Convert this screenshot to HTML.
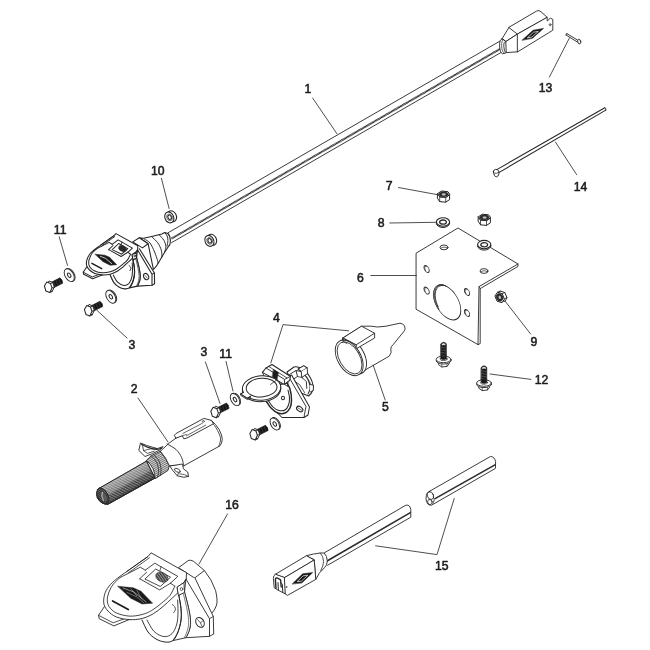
<!DOCTYPE html>
<html><head><meta charset="utf-8"><title>Parts diagram</title>
<style>
html,body{margin:0;padding:0;background:#fff;}
body{width:650px;height:650px;overflow:hidden;}
svg{display:block;will-change:transform;}
text{font-family:"Liberation Sans",sans-serif;font-weight:normal;fill:#1c1c1c;stroke:#1c1c1c;stroke-width:0.55px;stroke-linejoin:round;}
</style></head><body>
<svg width="650" height="650" viewBox="0 0 650 650" stroke-linecap="round" stroke-linejoin="round">
<defs>
<pattern id="hatch" width="1.6" height="1.6" patternUnits="userSpaceOnUse" patternTransform="rotate(60)"><rect width="1.6" height="1.6" fill="#bbb"/><rect width="0.9" height="1.6" fill="#333"/></pattern>
<pattern id="spr" width="2.2" height="2.2" patternUnits="userSpaceOnUse" patternTransform="rotate(-62)"><rect width="2.2" height="2.2" fill="#999"/><rect width="1.2" height="2.2" fill="#3a3a3a"/></pattern>
<pattern id="hatch2" width="2.4" height="2.4" patternUnits="userSpaceOnUse" patternTransform="rotate(-62)"><rect width="2.4" height="2.4" fill="#8c8c8c"/><rect width="1.25" height="2.4" fill="#333"/></pattern>
<pattern id="hatch3" width="1.6" height="1.6" patternUnits="userSpaceOnUse" patternTransform="rotate(-20)"><rect width="1.6" height="1.6" fill="#777"/><rect width="0.9" height="1.6" fill="#2a2a2a"/></pattern>
<pattern id="hatch4" width="1.7" height="1.7" patternUnits="userSpaceOnUse" patternTransform="rotate(-62)"><rect width="1.7" height="1.7" fill="#ddd"/><rect width="0.7" height="1.7" fill="#555"/></pattern>
<linearGradient id="sprg" gradientUnits="userSpaceOnUse" x1="120" y1="476.4" x2="129.2" y2="492.4"><stop offset="0" stop-color="#fff" stop-opacity="0.5"/><stop offset="0.5" stop-color="#fff" stop-opacity="0.3"/><stop offset="0.7" stop-color="#888" stop-opacity="0"/><stop offset="1" stop-color="#000" stop-opacity="0.45"/></linearGradient>
</defs>
<rect width="650" height="650" fill="#fff"/>
<line x1="168.0" y1="232.8" x2="500.5" y2="40.8" stroke="#262626" stroke-width="0.9" />
<line x1="171.5" y1="238.6" x2="501.5" y2="48.1" stroke="#2a2a2a" stroke-width="2.0" stroke-dasharray="1.0 0.3" stroke-linecap="butt"/>
<line x1="171.5" y1="242.7" x2="502.0" y2="51.9" stroke="#262626" stroke-width="0.9" />
<path d="M509.1,27.2 L501.9,39.0 L505.6,41.6 L517.7,33.9" fill="#fff" stroke="#262626" stroke-width="0.90" />
<path d="M517.7,33.9 L505.8,41.6 L506.2,52.6 L517.7,51.8" fill="#fff" stroke="#262626" stroke-width="0.90" />
<path d="M509.1,27.2 L536.5,11.1 Q539,9.6 541,11.799999999999999 L547.2,17.3 L517.7,33.9 Z" fill="#fff" stroke="#262626" stroke-width="0.90" />
<path d="M517.7,33.9 L547.2,17.3 L547.2,21.0 L550.3,18.1 L552.8,19.4 L552.8,30.2 L548.5,32.9 L517.7,51.8 Z" fill="#fff" stroke="#262626" stroke-width="0.90" />
<path d="M501.9,38.8 Q499.4,39.4 499.6,46 Q500.0,53.2 502.6,53.8 L506.2,52.8 Q504,52 503.8,46.5 Q503.6,41 505.7,41.6 Z" fill="#fff" stroke="#262626" stroke-width="0.90" />
<path d="M501.9,38.8 Q504.2,39.0 505.7,41.6" fill="none" stroke="#262626" stroke-width="0.90" />
<path d="M503.6,39.4 Q501.4,40 501.6,46.2 Q502,52.4 504.4,53.2" fill="none" stroke="#262626" stroke-width="0.70" />
<ellipse cx="0" cy="0" rx="0.90" ry="1.10" transform="translate(550.1,24.7) rotate(0)" fill="none" stroke="#262626" stroke-width="0.70"/>
<path d="M522.2,40.1 L533.1,30.2 L543.5,28.4 L532.5,38.2 Z" fill="#151515" stroke="#262626" stroke-width="0.60" />
<path d="M527.6,37.6 L533.6,32.2 L538.3,31.4 L532.2,36.8 Z" fill="none" stroke="#fff" stroke-width="0.70" />
<line x1="566.8" y1="33.6" x2="577.8" y2="40.2" stroke="#262626" stroke-width="0.9" />
<line x1="566.0" y1="35.0" x2="577.0" y2="41.8" stroke="#262626" stroke-width="0.9" />
<line x1="566.8" y1="33.6" x2="566.0" y2="35.0" stroke="#262626" stroke-width="0.9" />
<ellipse cx="0" cy="0" rx="1.50" ry="2.40" transform="translate(579.2,41.6) rotate(-15)" fill="#fff" stroke="#262626" stroke-width="0.90"/>
<line x1="497.2" y1="169.4" x2="604.8" y2="107.7" stroke="#262626" stroke-width="1.05" />
<line x1="498.8" y1="172.6" x2="605.8" y2="110.1" stroke="#262626" stroke-width="1.05" />
<path d="M604.8,107.7 Q606.6,108.2 605.8,110.1" fill="none" stroke="#262626" stroke-width="0.90" />
<path d="M493.4,171.6 Q493.6,169.6 495.6,169.4 L497.4,169.6 Q499.2,171 499,173.4 Q498.8,176.4 496.4,176.8 Q493.8,176.6 493.4,171.6 Z" fill="#fff" stroke="#262626" stroke-width="1.00" />
<path d="M494.6,173.2 Q496.6,174 498.6,172.4" fill="none" stroke="#262626" stroke-width="0.80" />
<ellipse rx="4.33" ry="5.70" transform="translate(172.0,216.3) rotate(-24)" fill="#fff" stroke="#262626" stroke-width="1.1"/>
<ellipse rx="4.33" ry="5.70" transform="translate(169.3,217.4) rotate(-24)" fill="#fff" stroke="#262626" stroke-width="1.1"/>
<ellipse rx="2.69" ry="3.53" transform="translate(169.5,217.4) rotate(-24)" fill="none" stroke="#262626" stroke-width="0.6"/>
<ellipse rx="1.60" ry="2.30" transform="translate(169.6,217.3) rotate(-24)" fill="#fff" stroke="#262626" stroke-width="1.0"/>
<ellipse rx="4.33" ry="5.70" transform="translate(212.1,239.8) rotate(-24)" fill="#fff" stroke="#262626" stroke-width="1.1"/>
<ellipse rx="4.33" ry="5.70" transform="translate(209.4,240.9) rotate(-24)" fill="#fff" stroke="#262626" stroke-width="1.1"/>
<ellipse rx="2.69" ry="3.53" transform="translate(209.6,240.9) rotate(-24)" fill="none" stroke="#262626" stroke-width="0.6"/>
<ellipse rx="1.60" ry="2.30" transform="translate(209.7,240.8) rotate(-24)" fill="#fff" stroke="#262626" stroke-width="1.0"/>
<path d="M52.4,288.4 L62.7,283.2 Q62.8,279.8 60.0,277.8 L49.7,283.1 Z" fill="#151515" stroke="#151515" stroke-width="0.60" />
<line x1="55.2" y1="286.3" x2="53.7" y2="281.8" stroke="#5a5a5a" stroke-width="0.45" />
<line x1="57.8" y1="285.0" x2="56.2" y2="280.5" stroke="#5a5a5a" stroke-width="0.45" />
<line x1="60.4" y1="283.7" x2="58.8" y2="279.2" stroke="#5a5a5a" stroke-width="0.45" />
<path d="M46.7,285.0 L49.1,281.0 L52.8,282.6 L54.3,286.9 L52.2,291.5 L48.2,290.0 Z" fill="#fff" stroke="#262626" stroke-width="1.00" />
<path d="M50.5,283.6 L52.8,282.6" fill="none" stroke="#262626" stroke-width="0.90" />
<path d="M52.0,287.9 L54.3,286.9" fill="none" stroke="#262626" stroke-width="0.90" />
<path d="M49.9,292.5 L52.2,291.5" fill="none" stroke="#262626" stroke-width="0.90" />
<path d="M44.4,286.0 L46.8,282.0 L50.5,283.6 L52.0,287.9 L49.9,292.5 L45.9,291.0 Z" fill="#fff" stroke="#262626" stroke-width="1.05" />
<ellipse cx="0" cy="0" rx="4.20" ry="7.00" transform="translate(70.1,274.8) rotate(-30)" fill="#fff" stroke="#262626" stroke-width="0.90"/>
<ellipse cx="0" cy="0" rx="4.20" ry="7.00" transform="translate(69.2,275.2) rotate(-30)" fill="#fff" stroke="#262626" stroke-width="0.90"/>
<ellipse cx="0" cy="0" rx="1.44" ry="2.40" transform="translate(69.2,275.2) rotate(-30)" fill="none" stroke="#262626" stroke-width="1.00"/>
<path d="M92.4,311.8 L102.7,306.6 Q102.8,303.2 100.0,301.2 L89.7,306.5 Z" fill="#151515" stroke="#151515" stroke-width="0.60" />
<line x1="95.2" y1="309.7" x2="93.7" y2="305.2" stroke="#5a5a5a" stroke-width="0.45" />
<line x1="97.8" y1="308.4" x2="96.2" y2="303.9" stroke="#5a5a5a" stroke-width="0.45" />
<line x1="100.4" y1="307.1" x2="98.8" y2="302.6" stroke="#5a5a5a" stroke-width="0.45" />
<path d="M86.7,308.4 L89.1,304.4 L92.8,306.0 L94.3,310.3 L92.2,314.9 L88.2,313.4 Z" fill="#fff" stroke="#262626" stroke-width="1.00" />
<path d="M90.5,307.0 L92.8,306.0" fill="none" stroke="#262626" stroke-width="0.90" />
<path d="M92.0,311.3 L94.3,310.3" fill="none" stroke="#262626" stroke-width="0.90" />
<path d="M89.9,315.9 L92.2,314.9" fill="none" stroke="#262626" stroke-width="0.90" />
<path d="M84.4,309.4 L86.8,305.4 L90.5,307.0 L92.0,311.3 L89.9,315.9 L85.9,314.4 Z" fill="#fff" stroke="#262626" stroke-width="1.05" />
<ellipse cx="0" cy="0" rx="4.20" ry="7.00" transform="translate(111.7,296.4) rotate(-30)" fill="#fff" stroke="#262626" stroke-width="0.90"/>
<ellipse cx="0" cy="0" rx="4.20" ry="7.00" transform="translate(110.8,296.8) rotate(-30)" fill="#fff" stroke="#262626" stroke-width="0.90"/>
<ellipse cx="0" cy="0" rx="1.44" ry="2.40" transform="translate(110.8,296.8) rotate(-30)" fill="none" stroke="#262626" stroke-width="1.00"/>
<path d="M218.8,413.6 L229.1,408.4 Q229.2,405.0 226.4,403.0 L216.1,408.3 Z" fill="#151515" stroke="#151515" stroke-width="0.60" />
<line x1="221.6" y1="411.5" x2="220.1" y2="407.0" stroke="#5a5a5a" stroke-width="0.45" />
<line x1="224.2" y1="410.2" x2="222.6" y2="405.7" stroke="#5a5a5a" stroke-width="0.45" />
<line x1="226.8" y1="408.9" x2="225.2" y2="404.4" stroke="#5a5a5a" stroke-width="0.45" />
<path d="M213.1,410.2 L215.5,406.2 L219.2,407.8 L220.7,412.1 L218.6,416.7 L214.6,415.2 Z" fill="#fff" stroke="#262626" stroke-width="1.00" />
<path d="M216.9,408.8 L219.2,407.8" fill="none" stroke="#262626" stroke-width="0.90" />
<path d="M218.4,413.1 L220.7,412.1" fill="none" stroke="#262626" stroke-width="0.90" />
<path d="M216.3,417.7 L218.6,416.7" fill="none" stroke="#262626" stroke-width="0.90" />
<path d="M210.8,411.2 L213.2,407.2 L216.9,408.8 L218.4,413.1 L216.3,417.7 L212.3,416.2 Z" fill="#fff" stroke="#262626" stroke-width="1.05" />
<ellipse cx="0" cy="0" rx="3.96" ry="6.60" transform="translate(235.9,399.2) rotate(-30)" fill="#fff" stroke="#262626" stroke-width="0.90"/>
<ellipse cx="0" cy="0" rx="3.96" ry="6.60" transform="translate(235.0,399.6) rotate(-30)" fill="#fff" stroke="#262626" stroke-width="0.90"/>
<ellipse cx="0" cy="0" rx="1.44" ry="2.40" transform="translate(235.0,399.6) rotate(-30)" fill="none" stroke="#262626" stroke-width="1.00"/>
<path d="M257.8,435.8 L268.1,430.6 Q268.2,427.2 265.4,425.2 L255.1,430.5 Z" fill="#151515" stroke="#151515" stroke-width="0.60" />
<line x1="260.6" y1="433.7" x2="259.1" y2="429.2" stroke="#5a5a5a" stroke-width="0.45" />
<line x1="263.2" y1="432.4" x2="261.6" y2="427.9" stroke="#5a5a5a" stroke-width="0.45" />
<line x1="265.8" y1="431.1" x2="264.2" y2="426.6" stroke="#5a5a5a" stroke-width="0.45" />
<path d="M252.1,432.4 L254.5,428.4 L258.2,430.0 L259.7,434.3 L257.6,438.9 L253.6,437.4 Z" fill="#fff" stroke="#262626" stroke-width="1.00" />
<path d="M255.9,431.0 L258.2,430.0" fill="none" stroke="#262626" stroke-width="0.90" />
<path d="M257.4,435.3 L259.7,434.3" fill="none" stroke="#262626" stroke-width="0.90" />
<path d="M255.3,439.9 L257.6,438.9" fill="none" stroke="#262626" stroke-width="0.90" />
<path d="M249.8,433.4 L252.2,429.4 L255.9,431.0 L257.4,435.3 L255.3,439.9 L251.3,438.4 Z" fill="#fff" stroke="#262626" stroke-width="1.05" />
<ellipse cx="0" cy="0" rx="3.96" ry="6.60" transform="translate(275.7,423.6) rotate(-30)" fill="#fff" stroke="#262626" stroke-width="0.90"/>
<ellipse cx="0" cy="0" rx="3.96" ry="6.60" transform="translate(274.8,424.0) rotate(-30)" fill="#fff" stroke="#262626" stroke-width="0.90"/>
<ellipse cx="0" cy="0" rx="1.44" ry="2.40" transform="translate(274.8,424.0) rotate(-30)" fill="none" stroke="#262626" stroke-width="1.00"/>
<path d="M416.4,253.0 L458.0,228.0 L518.0,264.0 L518.0,266.4 L480.2,288.6 L480.2,343.6 L478.0,344.6 L416.4,309.4 Z" fill="#fff" stroke="#262626" stroke-width="0.90" />
<path d="M518.0,264.0 L479.0,286.6 L478.0,344.6" fill="none" stroke="#262626" stroke-width="0.90" />
<path d="M479.0,286.6 L480.2,288.6" fill="none" stroke="#262626" stroke-width="0.70" />
<g transform="matrix(0.866,0.5,0,1,447.2,302.4)"><circle r="15.7" fill="#fff" stroke="#262626" stroke-width="0.95"/><path d="M-10.6,11.6 A15.7,15.7 0 0 1 -4,-15.2 A14.6,15.5 0 0 0 -9.6,11.4 Z" fill="#fff" stroke="#262626" stroke-width="0.7"/></g>
<g transform="matrix(0.866,0.5,0,1,448.4,302.6)"><path d="M-11.8,10.0 A15.5,15.5 0 0 1 -3,-15.2" fill="none" stroke="#262626" stroke-width="0.8"/></g>
<g transform="matrix(0.866,0.5,0,1,426.6,269)"><circle r="3.1" fill="#fff" stroke="#262626" stroke-width="0.9"/><path d="M-2.2,2.2 A3.1,3.1 0 0 1 -0.6,-3.05" transform="translate(0.9,0)" fill="none" stroke="#262626" stroke-width="0.7"/></g>
<g transform="matrix(0.866,0.5,0,1,426.6,290.6)"><circle r="3.1" fill="#fff" stroke="#262626" stroke-width="0.9"/><path d="M-2.2,2.2 A3.1,3.1 0 0 1 -0.6,-3.05" transform="translate(0.9,0)" fill="none" stroke="#262626" stroke-width="0.7"/></g>
<g transform="matrix(0.866,0.5,0,1,467,292)"><circle r="3.1" fill="#fff" stroke="#262626" stroke-width="0.9"/><path d="M-2.2,2.2 A3.1,3.1 0 0 1 -0.6,-3.05" transform="translate(0.9,0)" fill="none" stroke="#262626" stroke-width="0.7"/></g>
<g transform="matrix(0.866,0.5,0,1,467,313)"><circle r="3.1" fill="#fff" stroke="#262626" stroke-width="0.9"/><path d="M-2.2,2.2 A3.1,3.1 0 0 1 -0.6,-3.05" transform="translate(0.9,0)" fill="none" stroke="#262626" stroke-width="0.7"/></g>
<ellipse cx="0" cy="0" rx="4.00" ry="2.40" transform="translate(444.0,247.4) rotate(0)" fill="#fff" stroke="#262626" stroke-width="0.90"/>
<path d="M440.4,248.4 Q444,245.6 447.6,248.4" fill="none" stroke="#262626" stroke-width="0.70" />
<ellipse cx="0" cy="0" rx="4.00" ry="2.40" transform="translate(484.0,271.0) rotate(0)" fill="#fff" stroke="#262626" stroke-width="0.90"/>
<path d="M480.4,272.0 Q484,269.2 487.6,272.0" fill="none" stroke="#262626" stroke-width="0.70" />
<ellipse cx="0" cy="0" rx="6.60" ry="4.20" transform="translate(443.0,223.3) rotate(0)" fill="#fff" stroke="#262626" stroke-width="1.00"/>
<ellipse cx="0" cy="0" rx="6.60" ry="4.20" transform="translate(443.0,222.0) rotate(0)" fill="#fff" stroke="#262626" stroke-width="1.10"/>
<ellipse cx="0" cy="0" rx="3.43" ry="2.10" transform="translate(443.0,222.1) rotate(0)" fill="none" stroke="#262626" stroke-width="1.30"/>
<ellipse cx="0" cy="0" rx="6.60" ry="4.20" transform="translate(484.2,245.9) rotate(0)" fill="#fff" stroke="#262626" stroke-width="1.00"/>
<ellipse cx="0" cy="0" rx="6.60" ry="4.20" transform="translate(484.2,244.6) rotate(0)" fill="#fff" stroke="#262626" stroke-width="1.10"/>
<ellipse cx="0" cy="0" rx="3.43" ry="2.10" transform="translate(484.2,244.7) rotate(0)" fill="none" stroke="#262626" stroke-width="1.30"/>
<path d="M437.6,193.6 L439.7,196.8 L445.7,197.4 L449.6,194.8 L449.6,199.6 L445.7,202.2 L439.7,201.6 L437.6,198.4 Z" fill="#fff" stroke="#262626" stroke-width="1.00" />
<path d="M439.7,196.8 L439.7,201.6" fill="none" stroke="#262626" stroke-width="0.80" />
<path d="M445.7,197.4 L445.7,202.2" fill="none" stroke="#262626" stroke-width="0.80" />
<path d="M449.6,194.8 L445.7,197.4 L439.7,196.8 L437.6,193.6 L441.5,191.0 L447.5,191.6 Z" fill="#fff" stroke="#262626" stroke-width="1.00" />
<ellipse cx="0" cy="0" rx="4.51" ry="2.53" transform="translate(443.6,194.2) rotate(0)" fill="#2a2a2a" stroke="#262626" stroke-width="0.60"/>
<ellipse cx="0" cy="0" rx="1.95" ry="1.09" transform="translate(443.8,194.4) rotate(0)" fill="#c8c8c8" stroke="#888" stroke-width="0.40"/>
<path d="M478.4,216.8 L480.5,220.0 L486.5,220.6 L490.4,218.0 L490.4,222.8 L486.5,225.4 L480.5,224.8 L478.4,221.6 Z" fill="#fff" stroke="#262626" stroke-width="1.00" />
<path d="M480.5,220.0 L480.5,224.8" fill="none" stroke="#262626" stroke-width="0.80" />
<path d="M486.5,220.6 L486.5,225.4" fill="none" stroke="#262626" stroke-width="0.80" />
<path d="M490.4,218.0 L486.5,220.6 L480.5,220.0 L478.4,216.8 L482.3,214.2 L488.3,214.8 Z" fill="#fff" stroke="#262626" stroke-width="1.00" />
<ellipse cx="0" cy="0" rx="4.51" ry="2.53" transform="translate(484.4,217.4) rotate(0)" fill="#2a2a2a" stroke="#262626" stroke-width="0.60"/>
<ellipse cx="0" cy="0" rx="1.95" ry="1.09" transform="translate(484.6,217.6) rotate(0)" fill="#c8c8c8" stroke="#888" stroke-width="0.40"/>
<path d="M504.3,301.4 L499.6,299.9 L497.5,294.8 L500.1,291.0 L504.8,292.5 L506.9,297.6 Z" fill="#fff" stroke="#262626" stroke-width="1.00" />
<path d="M497.5,292.2 L500.1,291.0" fill="none" stroke="#262626" stroke-width="0.80" />
<path d="M502.2,293.7 L504.8,292.5" fill="none" stroke="#262626" stroke-width="0.80" />
<path d="M504.3,298.8 L506.9,297.6" fill="none" stroke="#262626" stroke-width="0.80" />
<path d="M501.7,302.6 L497.0,301.1 L494.9,296.0 L497.5,292.2 L502.2,293.7 L504.3,298.8 Z" fill="#fff" stroke="#262626" stroke-width="1.00" />
<ellipse rx="3.14" ry="3.92" transform="translate(499.6,297.4) rotate(-24)" fill="#2a2a2a" stroke="#222" stroke-width="0.6"/>
<ellipse rx="1.23" ry="1.68" transform="translate(499.8,297.4) rotate(-24)" fill="#bdbdbd" stroke="none"/>
<path d="M440.8,343.8 Q443.6,340.59999999999997 446.40000000000003,343.8 L446.40000000000003,357.2 L440.8,357.2 Z" fill="#1a1a1a" stroke="#1a1a1a" stroke-width="0.60" />
<path d="M441.7,344.09999999999997 Q443.6,342.4 445.50000000000006,344.09999999999997 L445.20000000000005,345.59999999999997 Q443.6,344.4 442.0,345.59999999999997 Z" fill="#ddd" stroke="none" stroke-width="0.00" />
<line x1="441.2" y1="347.2" x2="446.0" y2="348.2" stroke="#8a8a8a" stroke-width="0.45" />
<line x1="441.2" y1="349.8" x2="446.0" y2="350.8" stroke="#8a8a8a" stroke-width="0.45" />
<line x1="441.2" y1="352.4" x2="446.0" y2="353.4" stroke="#8a8a8a" stroke-width="0.45" />
<line x1="441.2" y1="355.0" x2="446.0" y2="356.0" stroke="#8a8a8a" stroke-width="0.45" />
<path d="M438.4,360.9 L438.4,364.6 L441.8,367.0 L447.0,366.4 L449.2,363.8 L449.2,360.9 Z" fill="#fff" stroke="#262626" stroke-width="0.90" />
<path d="M441.8,362.8 L441.8,367.0" fill="none" stroke="#262626" stroke-width="0.70" />
<path d="M447.0,362.6 L447.0,366.4" fill="none" stroke="#262626" stroke-width="0.70" />
<ellipse cx="0" cy="0" rx="7.40" ry="3.30" transform="translate(443.6,360.7) rotate(0)" fill="#fff" stroke="#262626" stroke-width="0.90"/>
<ellipse cx="0" cy="0" rx="7.40" ry="3.30" transform="translate(443.6,359.4) rotate(0)" fill="#fff" stroke="#262626" stroke-width="0.90"/>
<ellipse cx="0" cy="0" rx="3.60" ry="1.70" transform="translate(443.6,359.0) rotate(0)" fill="none" stroke="#262626" stroke-width="0.70"/>
<path d="M440.8,356.2 L440.8,358.79999999999995 Q443.6,360.79999999999995 446.40000000000003,358.79999999999995 L446.40000000000003,356.2 Z" fill="#1a1a1a" stroke="#1a1a1a" stroke-width="0.50" />
<path d="M481.2,367.40000000000003 Q484.0,364.2 486.8,367.40000000000003 L486.8,380.8 L481.2,380.8 Z" fill="#1a1a1a" stroke="#1a1a1a" stroke-width="0.60" />
<path d="M482.09999999999997,367.7 Q484.0,366.0 485.90000000000003,367.7 L485.6,369.2 Q484.0,368.0 482.4,369.2 Z" fill="#ddd" stroke="none" stroke-width="0.00" />
<line x1="481.6" y1="370.8" x2="486.4" y2="371.8" stroke="#8a8a8a" stroke-width="0.45" />
<line x1="481.6" y1="373.4" x2="486.4" y2="374.4" stroke="#8a8a8a" stroke-width="0.45" />
<line x1="481.6" y1="376.0" x2="486.4" y2="377.0" stroke="#8a8a8a" stroke-width="0.45" />
<line x1="481.6" y1="378.6" x2="486.4" y2="379.6" stroke="#8a8a8a" stroke-width="0.45" />
<path d="M478.8,384.5 L478.8,388.2 L482.2,390.6 L487.4,390.0 L489.6,387.4 L489.6,384.5 Z" fill="#fff" stroke="#262626" stroke-width="0.90" />
<path d="M482.2,386.4 L482.2,390.6" fill="none" stroke="#262626" stroke-width="0.70" />
<path d="M487.4,386.2 L487.4,390.0" fill="none" stroke="#262626" stroke-width="0.70" />
<ellipse cx="0" cy="0" rx="7.40" ry="3.30" transform="translate(484.0,384.3) rotate(0)" fill="#fff" stroke="#262626" stroke-width="0.90"/>
<ellipse cx="0" cy="0" rx="7.40" ry="3.30" transform="translate(484.0,383.0) rotate(0)" fill="#fff" stroke="#262626" stroke-width="0.90"/>
<ellipse cx="0" cy="0" rx="3.60" ry="1.70" transform="translate(484.0,382.6) rotate(0)" fill="none" stroke="#262626" stroke-width="0.70"/>
<path d="M481.2,379.8 L481.2,382.4 Q484.0,384.4 486.8,382.4 L486.8,379.8 Z" fill="#1a1a1a" stroke="#1a1a1a" stroke-width="0.50" />
<path d="M343,337.9 L361.5,326.2 L370.8,326.2 Q377,327.8 386,326.2 L400,323.2 Q403.2,323.4 404.6,326 Q406,329.6 403.8,331.5 L393.2,344.6 Q390.6,346.4 390.8,349 Q392.2,352.6 389.2,356.2 L362.4,371.6 L343,360 Z" fill="#fff" stroke="#262626" stroke-width="0.90" />
<ellipse cx="0" cy="0" rx="11.60" ry="19.40" transform="translate(352.6,356.2) rotate(-30)" fill="#fff" stroke="#262626" stroke-width="0.90"/>
<ellipse cx="0" cy="0" rx="11.60" ry="19.40" transform="translate(349.2,357.9) rotate(-30)" fill="#fff" stroke="#262626" stroke-width="0.90"/>
<ellipse cx="0" cy="0" rx="10.20" ry="17.60" transform="translate(349.6,357.9) rotate(-30)" fill="none" stroke="#262626" stroke-width="0.80"/>
<path d="M343.0,337.9 L361.5,326.2 L374.6,333.2 L374.6,338.0 L356.2,348.8 L356.2,344.8 L343.0,337.9 Z" fill="#fff" stroke="#262626" stroke-width="0.90" />
<path d="M356.2,344.8 L374.6,333.2" fill="none" stroke="#262626" stroke-width="0.90" />
<path d="M343.0,337.9 L343.0,341.4 L346.6,343.4" fill="none" stroke="#262626" stroke-width="0.80" />
<path d="M343.0,341.2 L345.0,339.2 L355.0,344.6" fill="none" stroke="#262626" stroke-width="0.70" />
<path d="M324.5,552.7675 L405.2,505.558 Q409.6,503.6 410.8,509.4 L410.8,517.2 L327.6,565.2539999999999" fill="#fff" stroke="#262626" stroke-width="0.90" />
<line x1="326.6" y1="561.2" x2="410.8" y2="512.4" stroke="#2c2c2c" stroke-width="1.6" stroke-linecap="butt"/>
<path d="M429.7,491.2 L490.6,456.4 Q494.6,456.8 495.6,461.6 L495.4,468.4 L431.6,505.2 Q426.4,505.6 426.0,498.6 Q426.2,492.2 429.7,491.2 Z" fill="#fff" stroke="#262626" stroke-width="0.90" />
<line x1="434.6" y1="498.9" x2="495.4" y2="464.6" stroke="#2c2c2c" stroke-width="1.6" stroke-linecap="butt"/>
<ellipse cx="0" cy="0" rx="3.00" ry="3.90" transform="translate(430.4,495.6) rotate(-20)" fill="none" stroke="#262626" stroke-width="0.80"/>
<ellipse cx="0" cy="0" rx="2.20" ry="2.60" transform="translate(429.9,502.0) rotate(-20)" fill="none" stroke="#262626" stroke-width="0.80"/>
<path d="M433.4,496.6 Q435.6,499.6 433.0,503.6" fill="none" stroke="#262626" stroke-width="0.80" />
<path d="M306.5,555.7 Q314,553.6 320.4,553 L324.2,553 Q327.2,556 327.3,561 Q327.2,565.4 324.4,567.8 Q318.6,572.6 315.8,579.4 L314.2,560 Z" fill="#fff" stroke="#262626" stroke-width="0.90" />
<path d="M320.4,553 Q323.4,556.4 323.6,561.6 Q323.4,565.8 320.8,570.6" fill="none" stroke="#262626" stroke-width="0.80" />
<path d="M275.2,574.4 L306.5,555.7 L314.2,560.0 L284.4,577.7 Z" fill="#fff" stroke="#262626" stroke-width="0.90" />
<path d="M284.4,577.7 L314.2,560.0 L315.8,579.4 L287.4,595.4 L285.2,593.8 Z" fill="#fff" stroke="#262626" stroke-width="0.90" />
<path d="M275.2,574.4 Q273.2,575.4 273.4,578.6 L274.2,587.7 L276.6,589.4 L285.2,593.8 L284.4,577.7 Z" fill="#fff" stroke="#262626" stroke-width="0.90" />
<path d="M276.0,588.4 L275.4,579.6 Q275.6,577.4 277.4,578 L280.6,579.8 L281.2,587.0" fill="none" stroke="#262626" stroke-width="1.40" />
<path d="M278.4,590 L278,582.6 M282.8,592.4 L282.4,584.8 Q282.2,583.2 280.8,582.8" fill="none" stroke="#262626" stroke-width="1.00" />
<ellipse cx="0" cy="0" rx="0.50" ry="0.50" transform="translate(286.4,587.0) rotate(0)" fill="none" stroke="#262626" stroke-width="0.60"/>
<path d="M292.4,583.8 L302.7,573.8 L312.7,572.6 L302.0,582.8 Z" fill="#151515" stroke="#262626" stroke-width="0.60" />
<path d="M297.4,581.4 L303.2,575.8 L307.8,575.2 L301.8,580.8 Z" fill="none" stroke="#fff" stroke-width="0.70" />
<path d="M312.6,98.0 L337.0,133.8" fill="none" stroke="#222" stroke-width="0.80" />
<path d="M161.4,178.3 L169.1,208.5" fill="none" stroke="#222" stroke-width="0.80" />
<path d="M59.2,236.8 L67.5,265.4" fill="none" stroke="#222" stroke-width="0.80" />
<path d="M97.0,310.4 L127.0,338.0" fill="none" stroke="#222" stroke-width="0.80" />
<path d="M138.0,398.0 L168.0,442.0" fill="none" stroke="#222" stroke-width="0.80" />
<path d="M205.4,362.0 L220.0,403.4" fill="none" stroke="#222" stroke-width="0.80" />
<path d="M226.0,361.4 L233.0,391.0" fill="none" stroke="#222" stroke-width="0.80" />
<path d="M270.8,363.0 L283.0,324.6 L348.6,330.8" fill="none" stroke="#222" stroke-width="0.80" />
<path d="M373.2,365.2 L385.2,400.0" fill="none" stroke="#222" stroke-width="0.80" />
<path d="M370.8,275.5 L416.3,275.5" fill="none" stroke="#222" stroke-width="0.80" />
<path d="M398.5,187.5 L437.0,194.6" fill="none" stroke="#222" stroke-width="0.80" />
<path d="M389.8,223.0 L436.3,222.3" fill="none" stroke="#222" stroke-width="0.80" />
<path d="M505.0,301.0 L530.6,334.0" fill="none" stroke="#222" stroke-width="0.80" />
<path d="M490.0,374.0 L531.0,379.4" fill="none" stroke="#222" stroke-width="0.80" />
<path d="M569.4,38.0 L549.4,77.0" fill="none" stroke="#222" stroke-width="0.80" />
<path d="M555.4,142.0 L576.6,174.6" fill="none" stroke="#222" stroke-width="0.80" />
<path d="M375.6,545.8 L437.0,554.6 L454.2,498.5" fill="none" stroke="#222" stroke-width="0.80" />
<path d="M227.5,514.0 L199.0,564.0" fill="none" stroke="#222" stroke-width="0.80" />
<g style="opacity:0.999">
<text x="308.0" y="92.6" font-size="12.2" text-anchor="middle">1</text>
<text x="157.7" y="175.2" font-size="12.2" text-anchor="middle">10</text>
<text x="60.2" y="233.7" font-size="12.2" text-anchor="middle">11</text>
<text x="132.0" y="349.4" font-size="12.2" text-anchor="middle">3</text>
<text x="134.2" y="392.6" font-size="12.2" text-anchor="middle">2</text>
<text x="204.0" y="355.6" font-size="12.2" text-anchor="middle">3</text>
<text x="225.6" y="358.0" font-size="12.2" text-anchor="middle">11</text>
<text x="276.5" y="322.0" font-size="12.2" text-anchor="middle">4</text>
<text x="385.5" y="411.4" font-size="12.2" text-anchor="middle">5</text>
<text x="360.5" y="282.2" font-size="12.2" text-anchor="middle">6</text>
<text x="389.2" y="190.0" font-size="12.2" text-anchor="middle">7</text>
<text x="381.2" y="227.0" font-size="12.2" text-anchor="middle">8</text>
<text x="534.0" y="345.8" font-size="12.2" text-anchor="middle">9</text>
<text x="541.5" y="383.6" font-size="12.2" text-anchor="middle">12</text>
<text x="545.5" y="91.8" font-size="12.2" text-anchor="middle">13</text>
<text x="580.5" y="190.8" font-size="12.2" text-anchor="middle">14</text>
<text x="441.8" y="569.8" font-size="12.2" text-anchor="middle">15</text>
<text x="232.0" y="509.0" font-size="12.2" text-anchor="middle">16</text>
</g>
<path d="M204.4,570.5 Q212,579.6 215.6,590.6 Q217.8,600 216.6,605 Q215.4,609 212.6,612.4 L194.9,577.8 Z" fill="#fff" stroke="none" stroke-width="0.00" />
<path d="M204.4,570.5 Q212,579.6 215.6,590.6 Q217.8,600 216.6,605 Q215.4,609 212.4,612.6" fill="none" stroke="#262626" stroke-width="0.90" />
<path d="M178.8,567.5 L188.2,560.6 L190.4,560.2 L193.4,561.2 L204.4,570.5 L194.9,577.8 Z" fill="#fff" stroke="#262626" stroke-width="0.90" />
<path d="M194.9,577.8 L213.3,616.5 L213.7,634.0 L209.5,636.3 L209.5,618.7 L186.1,579.2 Z" fill="#fff" stroke="none" stroke-width="0.00" />
<path d="M194.9,577.8 L213.3,616.5 L213.7,634.0 L209.5,636.3" fill="none" stroke="#262626" stroke-width="0.90" />
<path d="M209.5,618.7 L213.3,616.5" fill="none" stroke="#262626" stroke-width="0.80" />
<path d="M186.1,579.2 L209.5,618.7 L209.5,636.3 L186.1,637.7 L186.1,637.7 C186.7,636.2 189.0,631.9 189.7,629.0 C190.4,626.1 190.7,623.9 190.5,620.2 C190.3,616.5 189.3,611.6 188.3,607.0 C187.3,602.4 185.2,594.8 184.6,592.4 Z" fill="#fff" stroke="#262626" stroke-width="0.90" />
<ellipse cx="0" cy="0" rx="3.90" ry="5.30" transform="translate(200.0,622.4) rotate(-32)" fill="#fff" stroke="#262626" stroke-width="0.90"/>
<path d="M197.6,619.6 L200.4,622.8 L202.4,627.0" fill="none" stroke="#262626" stroke-width="0.70" />
<path d="M200.4,622.8 L203.4,620.4" fill="none" stroke="#262626" stroke-width="0.70" />
<path d="M178.8,595.3 C179.2,597.5 180.6,604.4 181.0,608.5 C181.4,612.6 181.5,616.3 181.0,620.2 C180.5,624.1 179.3,628.5 178.0,631.9 C176.7,635.3 175.1,638.9 172.9,640.6 C170.7,642.3 167.8,642.3 165.0,642.0 C162.2,641.7 158.8,640.7 156.0,639.0 C153.2,637.3 150.3,635.2 148.0,632.0 C145.7,628.8 143.0,622.0 142.0,620.0 L147.0,606.0 L178.0,590.0 Z" fill="#fff" stroke="none" stroke-width="0.00" />
<path d="M178.8,595.3 C179.2,597.5 180.6,604.4 181.0,608.5 C181.4,612.6 181.5,616.3 181.0,620.2 C180.5,624.1 179.3,628.5 178.0,631.9 C176.7,635.3 173.8,639.1 172.9,640.6 L186.1,637.7 L186.1,637.7 C186.7,636.2 189.0,631.9 189.7,629.0 C190.4,626.1 190.7,623.9 190.5,620.2 C190.3,616.5 189.3,611.6 188.3,607.0 C187.3,602.4 185.2,594.8 184.6,592.4 Z" fill="#fff" stroke="#262626" stroke-width="0.90" />
<path d="M178.8,595.3 C179.2,597.5 180.6,604.4 181.0,608.5 C181.4,612.6 181.5,616.3 181.0,620.2 C180.5,624.1 179.3,628.5 178.0,631.9 C176.7,635.3 175.1,638.9 172.9,640.6 C170.7,642.3 167.8,642.3 165.0,642.0 C162.2,641.7 158.8,640.7 156.0,639.0 C153.2,637.3 150.3,635.2 148.0,632.0 C145.7,628.8 143.0,622.0 142.0,620.0" fill="none" stroke="#262626" stroke-width="1.00" />
<path d="M177.6,600.0 C177.7,602.0 178.1,608.0 178.0,612.0 C177.9,616.0 177.8,620.4 176.8,624.0 C175.8,627.6 174.1,631.5 172.0,633.6 C169.9,635.7 167.0,637.0 164.0,636.6 C161.0,636.2 156.8,634.2 154.0,631.4 C151.2,628.6 148.2,621.9 147.0,620.0" fill="none" stroke="#262626" stroke-width="0.85" />
<path d="M183.4,594.0 C183.9,596.2 185.7,603.0 186.6,607.4 C187.5,611.8 188.4,616.6 188.6,620.2 C188.8,623.8 188.5,626.1 187.8,629.0 C187.1,631.9 185.0,636.3 184.4,637.8" fill="none" stroke="#262626" stroke-width="0.60" />
<path d="M172.4,604.6 C172.8,604.9 174.1,605.7 174.6,606.6 C175.1,607.5 175.6,608.8 175.4,609.8 C175.2,610.8 173.9,612.1 173.6,612.6" fill="none" stroke="#262626" stroke-width="0.80" />
<path d="M104.4,606.6 L98.5,615.3 L99.3,618.7 L113.8,625.9 L130.8,618.9 L131.0,616.4" fill="#fff" stroke="#262626" stroke-width="0.90" />
<path d="M98.5,615.3 L113.2,622.8 L130.8,616.4" fill="none" stroke="#262626" stroke-width="0.80" />
<path d="M151.4,553.0 L186.5,572.7 L186.2,579.0 L183.9,582.6 L177.3,587.0 L178.2,592.4 C177.2,593.4 174.5,596.0 172.0,598.3 C169.5,600.6 166.2,603.8 163.1,606.4 C160.0,609.0 156.9,611.7 153.4,613.7 C149.9,615.7 146.1,617.5 142.1,618.5 C138.1,619.5 133.5,619.9 129.2,619.6 C124.9,619.3 119.7,618.3 116.2,616.9 C112.7,615.5 110.2,613.2 108.2,611.2 C106.2,609.2 104.8,607.2 104.1,604.8 C103.4,602.4 103.6,599.4 104.1,596.7 C104.6,594.0 105.5,591.3 107.3,588.6 C109.0,585.9 111.3,583.4 114.6,580.5 C117.8,577.6 124.8,573.0 126.8,571.5 L147.7,556.7 Z" fill="#fff" stroke="#262626" stroke-width="0.90" />
<path d="M147.7,556.7 L126.8,571.5" fill="none" stroke="#262626" stroke-width="0.90" />
<path d="M149.4,557.8 C145.9,560.3 132.1,570.2 128.6,572.7" fill="none" stroke="#262626" stroke-width="0.80" />
<path d="M120.0,577.6 C118.9,578.7 115.2,581.8 113.4,584.0 C111.6,586.2 110.4,588.5 109.4,591.0 C108.4,593.5 107.4,596.5 107.3,599.1 C107.2,601.7 107.5,604.1 109.0,606.4 C110.5,608.7 112.8,611.3 116.2,612.9 C119.6,614.5 124.9,615.8 129.2,616.1 C133.5,616.4 138.3,615.5 142.1,614.5 C145.9,613.5 148.6,612.3 151.8,610.4 C155.0,608.5 158.5,605.7 161.5,603.2 C164.5,600.7 167.8,598.2 170.0,595.4 C172.2,592.6 174.0,587.7 174.8,586.2" fill="none" stroke="#262626" stroke-width="0.85" />
<path d="M120.0,577.6 L140.3,567.2 L145.2,570.2" fill="none" stroke="#262626" stroke-width="0.85" />
<path d="M170.5,583.2 L174.8,586.2" fill="none" stroke="#262626" stroke-width="0.85" />
<path d="M145.2,570.2 L154.8,563.2 L177.8,576.4 L170.5,583.2" fill="none" stroke="#262626" stroke-width="0.85" />
<path d="M139.7,578.8 L146.6,572.2" fill="none" stroke="#262626" stroke-width="0.85" />
<path d="M139.7,578.8 L159.6,589.9 L170.5,583.2" fill="none" stroke="#262626" stroke-width="0.85" />
<path d="M145.2,578.8 L155.7,569.0 L170.5,577.2 L160.6,586.2 Z" fill="#fff" stroke="#262626" stroke-width="0.85" />
<ellipse rx="6.60" ry="4.60" transform="translate(161.9,577.2) rotate(28)" fill="url(#spr)" stroke="#333" stroke-width="0.5"/>
<path d="M160.0,570.6 L161.0,566.6" fill="none" stroke="#262626" stroke-width="0.70" />
<path d="M117.8,586.2 L133.2,587.8 L141.0,591.2 L152.6,603.2 L142.1,604.0 L130.8,598.3 Z" fill="#1a1a1a" stroke="#262626" stroke-width="0.50" />
<path d="M123.0,588.0 L134.0,592.0 L146.0,602.0" fill="none" stroke="#ddd" stroke-width="0.60" />
<path d="M127.0,592.4 L137.0,597.0 L143.6,602.6" fill="none" stroke="#bbb" stroke-width="0.50" />
<path d="M131.0,589.0 L136.6,595.6" fill="none" stroke="#ccc" stroke-width="0.50" />
<path d="M137.0,590.6 L141.6,598.8" fill="none" stroke="#ccc" stroke-width="0.50" />
<path d="M112.6,600.9 L128.3,609.6" fill="none" stroke="#1a1a1a" stroke-width="1.70" />
<path d="M183.9,582.6 L186.1,579.2" fill="none" stroke="#262626" stroke-width="0.90" />
<path d="M177.3,587.0 L183.9,582.6 L184.6,592.4 L178.8,595.3 Z" fill="#fff" stroke="#262626" stroke-width="0.90" />
<ellipse cx="0" cy="0" rx="1.30" ry="1.50" transform="translate(181.5,589.0) rotate(0)" fill="none" stroke="#262626" stroke-width="0.70"/>
<path d="M143.5,238.2 Q152.7,236.4 161.9,234 L164.7,232.6 L167.9,233.5 Q170.4,236 170.4,241 Q170.4,245 168.4,246.5 Q163.8,253.4 160.1,259.9 Q156.4,266.6 153.4,269.4 L148.1,243.7 L139.3,237.7 Z" fill="#fff" stroke="#262626" stroke-width="1.08" />
<path d="M164.7,232.6 C165.1,233.2 166.7,234.7 167.2,236.0 C167.7,237.3 167.9,238.7 167.9,240.4 C167.9,242.1 167.2,245.2 167.0,246.2" fill="none" stroke="#262626" stroke-width="0.96" />
<path d="M159.2,234.9 C160.0,235.8 162.8,238.3 163.9,240.3 C165.0,242.3 165.8,244.8 165.9,246.7 C166.0,248.6 164.9,250.7 164.7,251.5" fill="none" stroke="#262626" stroke-width="0.96" />
<path d="M151.8,236.8 C152.8,237.8 156.1,240.6 157.7,242.8 C159.3,245.0 160.6,247.8 161.3,250.2 C162.0,252.6 161.9,255.9 162.0,257.0" fill="none" stroke="#262626" stroke-width="0.96" />
<path d="M144.4,239.1 C145.3,239.8 148.3,240.8 150.0,243.0 C151.7,245.2 153.3,249.1 154.6,252.0 C155.8,254.9 157.0,258.5 157.5,260.4 C158.0,262.3 157.8,263.0 157.8,263.5" fill="none" stroke="#262626" stroke-width="0.96" />
<path d="M132.8,241.9 L139.3,237.7 L148.1,243.7 L142.5,247.9 Z" fill="#fff" stroke="#262626" stroke-width="1.08" />
<path d="M139.4,248.7 L154.4,273.0 L154.6,283.8 L152.0,285.2 L152.0,274.3 L137.5,249.8 Z" fill="#fff" stroke="none" stroke-width="0.00" />
<path d="M139.4,248.7 L154.4,273.0 L154.6,283.8 L152.0,285.2" fill="none" stroke="#262626" stroke-width="1.08" />
<path d="M152.0,274.3 L154.4,273.0" fill="none" stroke="#262626" stroke-width="0.96" />
<path d="M137.5,249.8 L152.0,274.3 L152.0,285.2 L137.5,286.1 L137.5,286.1 C137.9,285.2 139.3,282.5 139.7,280.7 C140.2,278.9 140.4,277.5 140.2,275.3 C140.1,273.0 139.5,270.0 138.9,267.1 C138.3,264.2 137.0,259.5 136.6,258.0 Z" fill="#fff" stroke="#262626" stroke-width="1.08" />
<ellipse cx="0" cy="0" rx="2.42" ry="3.29" transform="translate(146.1,276.6) rotate(-32)" fill="#fff" stroke="#262626" stroke-width="1.08"/>
<path d="M145.1,275.5 L147.2,278.0" fill="none" stroke="#262626" stroke-width="0.72" />
<path d="M133.0,259.8 C133.2,261.2 134.1,265.4 134.4,268.0 C134.6,270.6 134.7,272.8 134.4,275.3 C134.0,277.7 133.3,280.4 132.5,282.5 C131.7,284.6 130.7,286.9 129.3,287.9 C128.0,289.0 126.2,288.9 124.4,288.8 C122.7,288.6 120.6,288.0 118.9,286.9 C117.1,285.9 115.3,284.5 113.9,282.6 C112.4,280.6 110.8,276.4 110.2,275.1 L113.3,266.5 L132.5,256.5 Z" fill="#fff" stroke="none" stroke-width="0.00" />
<path d="M133.0,259.8 C133.2,261.2 134.1,265.4 134.4,268.0 C134.6,270.6 134.7,272.8 134.4,275.3 C134.0,277.7 133.3,280.4 132.5,282.5 C131.7,284.6 129.9,287.0 129.3,287.9 L137.5,286.1 L137.5,286.1 C137.9,285.2 139.3,282.5 139.7,280.7 C140.2,278.9 140.4,277.5 140.2,275.3 C140.1,273.0 139.5,270.0 138.9,267.1 C138.3,264.2 137.0,259.5 136.6,258.0 Z" fill="#fff" stroke="#262626" stroke-width="1.08" />
<path d="M133.0,259.8 C133.2,261.2 134.1,265.4 134.4,268.0 C134.6,270.6 134.7,272.8 134.4,275.3 C134.0,277.7 133.3,280.4 132.5,282.5 C131.7,284.6 130.7,286.9 129.3,287.9 C128.0,289.0 126.2,288.9 124.4,288.8 C122.7,288.6 120.6,288.0 118.9,286.9 C117.1,285.9 115.3,284.5 113.9,282.6 C112.4,280.6 110.8,276.4 110.2,275.1" fill="none" stroke="#262626" stroke-width="1.20" />
<path d="M132.2,262.7 C132.3,264.0 132.6,267.7 132.5,270.2 C132.4,272.7 132.4,275.4 131.7,277.6 C131.1,279.9 130.1,282.3 128.8,283.6 C127.4,284.9 125.7,285.7 123.8,285.4 C122.0,285.2 119.4,283.9 117.6,282.2 C115.9,280.5 114.0,276.3 113.3,275.1" fill="none" stroke="#262626" stroke-width="1.02" />
<path d="M135.8,259.0 C136.2,260.4 137.3,264.6 137.8,267.3 C138.4,270.0 138.9,273.0 139.1,275.3 C139.2,277.5 139.0,278.9 138.6,280.7 C138.1,282.5 136.8,285.3 136.5,286.2" fill="none" stroke="#262626" stroke-width="0.72" />
<path d="M129.0,265.6 C129.2,265.8 130.1,266.3 130.4,266.8 C130.7,267.4 131.0,268.2 130.9,268.8 C130.8,269.4 129.9,270.3 129.8,270.6" fill="none" stroke="#262626" stroke-width="0.96" />
<path d="M86.9,266.8 L83.2,272.2 L83.7,274.3 L92.7,278.8 L103.2,274.5 L103.4,272.9" fill="#fff" stroke="#262626" stroke-width="1.08" />
<path d="M83.2,272.2 L92.3,276.9 L103.2,272.9" fill="none" stroke="#262626" stroke-width="0.96" />
<path d="M116.0,233.6 L137.8,245.8 L137.6,249.7 L136.2,252.0 L132.1,254.7 L132.6,258.0 C132.0,258.6 130.3,260.2 128.8,261.7 C127.2,263.1 125.2,265.1 123.3,266.7 C121.3,268.3 119.4,270.0 117.2,271.2 C115.1,272.5 112.7,273.6 110.2,274.2 C107.7,274.8 104.9,275.1 102.2,274.9 C99.6,274.7 96.3,274.1 94.2,273.2 C92.0,272.3 90.5,270.9 89.2,269.7 C88.0,268.4 87.1,267.2 86.7,265.7 C86.3,264.2 86.3,262.4 86.7,260.7 C87.0,259.0 87.6,257.3 88.7,255.7 C89.7,254.0 91.2,252.4 93.2,250.7 C95.2,248.9 99.5,246.0 100.7,245.1 L113.7,235.9 Z" fill="#fff" stroke="#262626" stroke-width="1.08" />
<path d="M113.7,235.9 L100.7,245.1" fill="none" stroke="#262626" stroke-width="1.08" />
<path d="M114.8,236.6 C112.6,238.1 104.0,244.3 101.9,245.8" fill="none" stroke="#262626" stroke-width="0.96" />
<path d="M96.5,248.9 C95.8,249.5 93.5,251.4 92.4,252.8 C91.3,254.2 90.6,255.6 90.0,257.2 C89.3,258.7 88.7,260.6 88.7,262.2 C88.6,263.8 88.8,265.3 89.7,266.7 C90.6,268.1 92.1,269.7 94.2,270.7 C96.3,271.7 99.6,272.6 102.2,272.7 C104.9,272.9 107.9,272.3 110.2,271.7 C112.6,271.1 114.2,270.4 116.2,269.2 C118.3,268.0 120.4,266.3 122.3,264.7 C124.1,263.2 126.2,261.6 127.5,259.9 C128.9,258.1 130.0,255.1 130.5,254.2" fill="none" stroke="#262626" stroke-width="1.02" />
<path d="M96.5,248.9 L109.1,242.4 L112.2,244.3" fill="none" stroke="#262626" stroke-width="1.02" />
<path d="M127.8,252.3 L130.5,254.2" fill="none" stroke="#262626" stroke-width="1.02" />
<path d="M112.2,244.3 L118.1,239.9 L132.4,248.1 L127.8,252.3" fill="none" stroke="#262626" stroke-width="1.02" />
<path d="M108.7,249.6 L113.0,245.5" fill="none" stroke="#262626" stroke-width="1.02" />
<path d="M108.7,249.6 L121.1,256.5 L127.8,252.3" fill="none" stroke="#262626" stroke-width="1.02" />
<path d="M112.2,249.6 L118.7,243.5 L127.8,248.6 L121.7,254.2 Z" fill="#fff" stroke="#262626" stroke-width="1.02" />
<ellipse rx="4.09" ry="2.85" transform="translate(122.5,248.6) rotate(28)" fill="#2a2a2a" stroke="#333" stroke-width="0.5"/>
<path d="M121.3,244.5 L122.0,242.0" fill="none" stroke="#262626" stroke-width="0.84" />
<path d="M95.2,254.2 L104.7,255.2 L109.6,257.3 L116.7,264.7 L110.2,265.2 L103.2,261.7 Z" fill="#1a1a1a" stroke="#262626" stroke-width="0.60" />
<path d="M100.3,256.3 L105.6,258.4 L111.8,263.7" fill="none" stroke="#e8e8e8" stroke-width="0.84" />
<path d="M91.9,263.3 L101.7,268.7" fill="none" stroke="#1a1a1a" stroke-width="1.43" />
<path d="M136.2,252.0 L137.5,249.8" fill="none" stroke="#262626" stroke-width="1.08" />
<path d="M132.1,254.7 L136.2,252.0 L136.6,258.0 L133.0,259.8 Z" fill="#fff" stroke="#262626" stroke-width="1.08" />
<ellipse cx="0" cy="0" rx="0.81" ry="0.93" transform="translate(134.7,255.9) rotate(0)" fill="none" stroke="#262626" stroke-width="0.84"/>
<path d="M287,372 L294,367 Q296.6,366.4 299.2,367.5 L305,371 Q308.6,374.2 310.5,378 Q312.4,381.6 313,385 L313,390 Q311.6,393.6 308.6,396 L296,391 Z" fill="#fff" stroke="#262626" stroke-width="1.03" />
<path d="M289.5,374.5 L296.0,370.5 L301.0,371.5" fill="none" stroke="#262626" stroke-width="0.92" />
<path d="M296.0,370.5 L297.5,376.5 L292.4,379.8" fill="none" stroke="#262626" stroke-width="0.92" />
<path d="M297.5,376.5 L302.4,377.6" fill="none" stroke="#262626" stroke-width="0.80" />
<path d="M301.0,371.5 C301.8,372.3 304.6,374.6 306.0,376.5 C307.4,378.4 308.6,380.9 309.3,383.0 C310.0,385.1 310.2,387.2 310.0,389.0 C309.8,390.8 308.3,393.2 308.0,394.0" fill="none" stroke="#262626" stroke-width="1.03" />
<path d="M303.4,373.4 C304.1,374.2 306.4,376.4 307.6,378.2 C308.8,380.0 310.1,383.0 310.6,384.0" fill="none" stroke="#262626" stroke-width="0.69" />
<path d="M309.6,384.4 L313.4,385.2 L313.4,390.2 L310.4,392.0" fill="#fff" stroke="#262626" stroke-width="0.92" />
<path d="M298.0,369.0 L303.8,365.6 L307.2,368.0 L301.2,371.6 Z" fill="#fff" stroke="#262626" stroke-width="1.03" />
<path d="M301.2,371.6 L301.8,377.4 L307.6,373.6 L307.2,368.0" fill="#fff" stroke="#262626" stroke-width="0.92" />
<path d="M301.8,377.4 L306.4,381.6 L306.8,388.4" fill="none" stroke="#262626" stroke-width="0.92" />
<path d="M293.6,380.6 L299.6,384.6 L304.6,392.6" fill="none" stroke="#262626" stroke-width="0.80" />
<path d="M291.6,375.0 L309.5,407.0 L308.0,415.0 L304.0,417.5 L282.0,417.5 L265.0,400.5 L272.0,386.0 Z" fill="#fff" stroke="#262626" stroke-width="1.03" />
<path d="M289.8,378.6 L306.0,406.5 L304.5,414.2 L304.0,417.5" fill="none" stroke="#262626" stroke-width="0.92" />
<ellipse cx="0" cy="0" rx="3.50" ry="2.20" transform="translate(299.7,409.0) rotate(35)" fill="#fff" stroke="#262626" stroke-width="1.03"/>
<path d="M297.6,407.6 L301.8,410.4" fill="none" stroke="#262626" stroke-width="0.69" />
<path d="M266.0,400.5 C266.8,401.8 269.0,405.9 271.0,408.0 C273.0,410.1 275.7,412.2 278.0,413.0 C280.3,413.8 283.0,413.8 285.0,413.0 C287.0,412.2 288.9,410.2 290.0,408.0 C291.1,405.8 291.5,403.2 291.5,400.0 C291.5,396.8 290.8,391.8 290.0,389.0 C289.2,386.2 287.5,384.0 287.0,383.0 L272,386 Z" fill="#fff" stroke="#262626" stroke-width="1.49" />
<path d="M268.0,400.0 C268.8,401.2 271.2,405.2 273.0,407.0 C274.8,408.8 277.0,410.0 279.0,410.5 C281.0,411.0 283.4,410.9 285.0,410.0 C286.6,409.1 287.8,407.0 288.5,405.0 C289.2,403.0 289.6,400.5 289.5,398.0 C289.4,395.5 288.2,391.3 288.0,390.0" fill="none" stroke="#262626" stroke-width="1.03" />
<ellipse cx="0" cy="0" rx="1.50" ry="1.80" transform="translate(283.0,398.0) rotate(0)" fill="none" stroke="#262626" stroke-width="1.03"/>
<path d="M272.0,364.5 L290.5,376.5 L289.6,380.4 L284.4,384.4 L262.4,372.4 L266.0,368.0 Z" fill="#fff" stroke="#262626" stroke-width="1.03" />
<path d="M266.0,368.0 L284.6,379.4 L289.6,376.8" fill="none" stroke="#262626" stroke-width="0.92" />
<path d="M268.6,366.4 L286.8,377.8" fill="none" stroke="#262626" stroke-width="0.80" />
<path d="M262.4,372.4 L264.0,376.0" fill="none" stroke="#262626" stroke-width="0.92" />
<path d="M284.4,380.0 L284.6,384.4 L287.6,386.4 L288.0,382.0" fill="none" stroke="#262626" stroke-width="0.92" />
<path d="M273.6,369.6 L278.4,372.6 L277.0,379.6 L272.4,377.0 Z" fill="#1c1c1c" stroke="#262626" stroke-width="0.57" />
<ellipse cx="0" cy="0" rx="19.20" ry="12.20" transform="translate(261.6,389.4) rotate(-4)" fill="#fff" stroke="#262626" stroke-width="1.03"/>
<ellipse cx="0" cy="0" rx="19.20" ry="12.20" transform="translate(261.6,388.0) rotate(-4)" fill="#fff" stroke="#262626" stroke-width="1.03"/>
<ellipse cx="0" cy="0" rx="15.40" ry="9.40" transform="translate(261.6,387.6) rotate(-4)" fill="none" stroke="#262626" stroke-width="0.98"/>
<path d="M270.6,384.4 L277.4,379.4" fill="none" stroke="#262626" stroke-width="0.80" />
<path d="M243.6,392.3 L240.5,394.0 L247.3,398.2 L250.6,396.2" fill="#fff" stroke="#262626" stroke-width="1.03" />
<path d="M240.5,394.0 L240.7,395.4 L247.3,399.6 L250.6,397.6" fill="none" stroke="#262626" stroke-width="0.80" />
<path d="M99.6,488.1 L146.5,461.2 L155,478.1 L108.1,504.2 Q101.4,504.8 97.4,498 Q95.4,491.4 99.6,488.1 Z" fill="url(#hatch2)" stroke="#262626" stroke-width="0.90" />
<path d="M99.6,488.1 L146.5,461.2 L155,478.1 L108.1,504.2 Q101.4,504.8 97.4,498 Q95.4,491.4 99.6,488.1 Z" fill="url(#sprg)" stroke="#262626" stroke-width="0.90" />
<ellipse cx="0" cy="0" rx="5.00" ry="8.60" transform="translate(102.9,495.9) rotate(-30)" fill="url(#hatch3)" stroke="#262626" stroke-width="0.90"/>
<ellipse cx="0" cy="0" rx="2.90" ry="5.80" transform="translate(103.8,496.4) rotate(-30)" fill="#5a5a5a" stroke="#333" stroke-width="0.60"/>
<path d="M102.4,492.2 Q100.6,496 103.4,500.6" fill="none" stroke="#ddd" stroke-width="0.80" />
<path d="M146.5,460.4 L151.2,455.8 L160.4,451.2 Q166.5,458.1 169.3,465.8 L168,470.4 L155,478.8 Q155.4,468 146.5,460.4 Z" fill="url(#hatch4)" stroke="#262626" stroke-width="0.90" />
<path d="M151.2,455.8 C152.1,456.9 155.6,460.1 156.8,462.6 C158.0,465.1 158.5,468.2 158.6,470.6 C158.7,473.0 157.8,475.9 157.6,477.0" fill="none" stroke="#262626" stroke-width="0.80" />
<path d="M153.6,454.6 C154.5,455.7 158.0,458.9 159.2,461.4 C160.4,463.9 160.8,467.1 161.0,469.4 C161.2,471.7 160.5,474.4 160.4,475.4" fill="none" stroke="#262626" stroke-width="0.80" />
<path d="M140.4,443.3 L138.8,450.4 L145.0,456.5 L152.7,453.5 L160.4,449.6 L163.0,446.6 L157.3,448.6 L147.0,445.6 Z" fill="#fff" stroke="#262626" stroke-width="0.90" />
<path d="M142.6,445.4 L143.5,450.6 L147.4,453.4 L154.2,451.2" fill="none" stroke="#262626" stroke-width="0.80" />
<path d="M143.5,450.6 L150.0,449.0 L157.3,448.6" fill="none" stroke="#262626" stroke-width="0.70" />
<path d="M141.6,444.4 C142.7,444.9 145.6,446.6 148.0,447.4 C150.4,448.2 153.7,449.3 156.0,449.4 C158.3,449.5 160.7,448.4 161.6,448.2" fill="none" stroke="#262626" stroke-width="1.20" />
<path d="M160.4,451.2 L169.6,442.7 L176.2,438 L211.5,420.4 Q216,424.4 219.2,429.6 Q222.3,435.6 222.3,439.4 Q221.8,443.6 220,445.8 L183.8,465.8 L169.3,465.8 Q166.5,458.1 160.4,451.2 Z" fill="#fff" stroke="#262626" stroke-width="0.90" />
<path d="M167.0,443.9 C168.5,444.8 173.8,447.4 176.2,449.6 C178.6,451.8 180.3,454.9 181.5,457.3 C182.7,459.7 183.0,462.4 183.4,463.8 C183.8,465.2 183.7,465.5 183.8,465.8" fill="none" stroke="#262626" stroke-width="0.90" />
<path d="M209.8,421.2 C210.6,421.9 213.1,423.8 214.4,425.4 C215.7,427.0 216.6,428.7 217.6,430.6 C218.6,432.5 219.7,434.9 220.2,436.6 C220.7,438.3 220.7,439.3 220.4,441.0 C220.1,442.7 218.9,445.7 218.6,446.6" fill="none" stroke="#262626" stroke-width="0.80" />
<path d="M174.6,435.0 L176.2,433.4 L203.8,418.4 L211.5,420.4 L213.4,423.8 L187.0,438.0 L183.8,438.8 L182.3,435.8 L176.2,438.0 Z" fill="#fff" stroke="#262626" stroke-width="0.90" />
<path d="M183.0,433.4 L202.3,423.3" fill="none" stroke="#262626" stroke-width="0.70" />
<path d="M186.4,435.8 L205.6,425.2" fill="none" stroke="#262626" stroke-width="0.70" />
<path d="M182.3,435.8 L186.4,434.4" fill="none" stroke="#262626" stroke-width="0.70" />
<ellipse cx="0" cy="0" rx="1.10" ry="0.80" transform="translate(203.2,421.5) rotate(-25)" fill="none" stroke="#262626" stroke-width="0.60"/>
<path d="M170.0,466.3 L172.7,470.4 L177.3,475.8 L183.8,477.3 L188.5,476.4 L187.7,472.0 L183.4,468.8 L182.6,464.4 Z" fill="#fff" stroke="#262626" stroke-width="0.90" />
<ellipse cx="0" cy="0" rx="3.20" ry="1.60" transform="translate(177.4,470.4) rotate(28)" fill="none" stroke="#262626" stroke-width="0.80"/>
<path d="M177.3,475.8 L178.0,473.6 L184.4,474.6 L188.5,476.4" fill="none" stroke="#262626" stroke-width="0.70" />
</svg>
</body></html>
